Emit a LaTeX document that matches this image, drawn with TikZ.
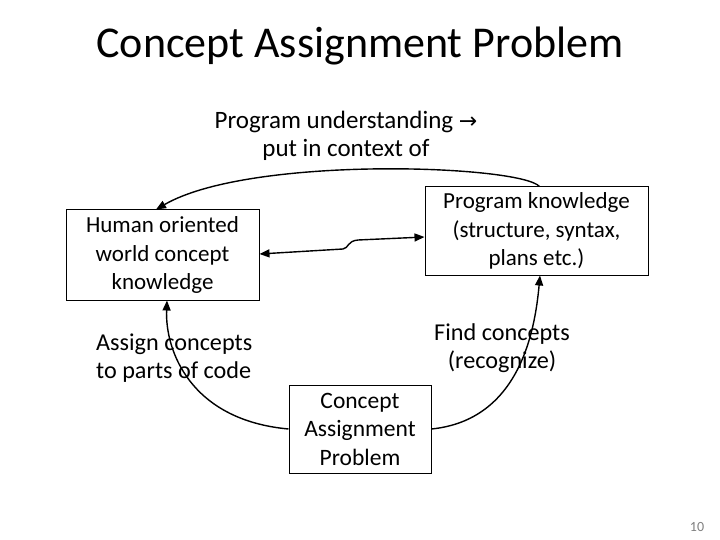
\documentclass[tikz,border=0pt]{standalone}
\usepackage{fontspec}
\setmainfont{Carlito}
\usetikzlibrary{arrows.meta}
\begin{document}
\begin{tikzpicture}[x=1pt,y=-1pt,
  box/.style={draw,line width=1pt,align=center,font=\fontsize{23}{28.5}\selectfont,inner sep=0pt},
  lbl/.style={align=center,font=\fontsize{24.2}{28.5}\selectfont,inner sep=0pt},
  conn/.style={line width=1.4pt,-{Triangle[length=10pt,width=8pt]}}]
\useasboundingbox (0,0) rectangle (720,540);
\node[lbl,font=\fontsize{44}{48}\selectfont] (title) at (360,46) {Concept Assignment Problem};
\node[lbl,font=\fontsize{25}{28.5}\selectfont] (pu) at (346,136) {Program understanding {\fontspec{DejaVu Sans}\fontsize{22}{24}\selectfont →}\\put in context of};
\node[box,minimum width=193,minimum height=90] (hum) at (162.5,255) {Human oriented\\world concept\\knowledge};
\node[box,minimum width=223,minimum height=88] (pk) at (536.5,231) {Program knowledge\\(structure, syntax,\\plans etc.)};
\node[box,font=\fontsize{23.5}{28.5}\selectfont,minimum width=142,minimum height=88] (cap) at (360,429) {Concept\\Assignment\\Problem};
\node[lbl,align=left,anchor=west] (assign) at (96,358) {Assign concepts\\to parts of code};
\node[lbl] (find) at (502,348) {Find concepts\\(recognize)};
\node[lbl,font=\fontsize{14}{16}\selectfont,text=gray] (pg) at (697,527) {10};
\draw[conn] (pk.north) ++(3,0) .. controls (520,165) and (250,155) .. (hum.north -| 156,0);
\draw[line width=1.4pt,{Triangle[length=10pt,width=8pt]}-{Triangle[length=10pt,width=8pt]}]
  (hum.east |- 0,254) -- (343,249) .. controls (349,248) and (347,241) .. (358,240) -- (pk.west |- 0,237);
\draw[conn] (cap.west) .. controls (190,420) and (165,350) .. (hum.south -| 167,0);
\draw[conn] (cap.east) .. controls (520,420) and (535,330) .. (pk.south -| 540,0);
\end{tikzpicture}
\end{document}
